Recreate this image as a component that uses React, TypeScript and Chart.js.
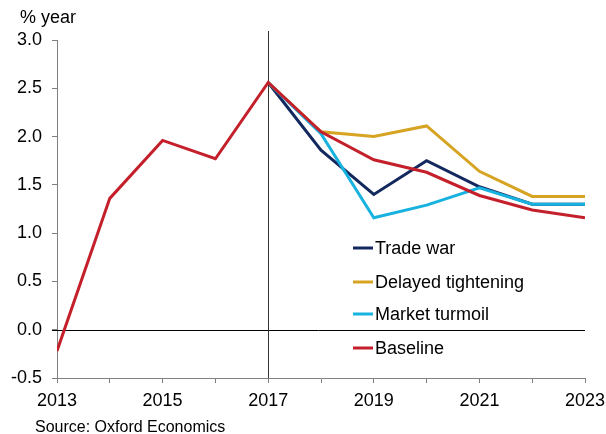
import React, { useEffect, useRef } from "react";
import { Chart, registerables } from "chart.js";

Chart.register(...registerables);

const years = [2013, 2014, 2015, 2016, 2017, 2018, 2019, 2020, 2021, 2022, 2023];
const baseline = [-0.22, 1.36, 1.96, 1.77, 2.56, 2.05, 1.76, 1.63, 1.39, 1.24, 1.16];
const tradeWar = [null, null, null, null, 2.56, 1.86, 1.40, 1.75, 1.48, 1.30, 1.30];
const delayedTightening = [null, null, null, null, 2.56, 2.05, 2.00, 2.11, 1.64, 1.38, 1.38];
const marketTurmoil = [null, null, null, null, 2.56, 2.03, 1.16, 1.29, 1.47, 1.30, 1.30];
const seriesNames = ["Trade war", "Delayed tightening", "Market turmoil", "Baseline"];
const seriesColors = ["#13285e", "#d6a422", "#17b2df", "#c4202b"];
const yTicks = [-0.5, 0.0, 0.5, 1.0, 1.5, 2.0, 2.5, 3.0];
const markerYear = 2017;
const unitLabel = "% year";
const sourceLabel = "Source: Oxford Economics";

const FONT = "'Liberation Sans', Arial, sans-serif";

function toPoints(vals: (number | null)[]) {
  return years.map((x, i) => ({ x, y: vals[i] }));
}

export default function App() {
  const ref = useRef<HTMLCanvasElement | null>(null);
  useEffect(() => {
    const canvas = ref.current;
    if (!canvas) return;
    const allSeries = [tradeWar, delayedTightening, marketTurmoil, baseline];
    const orders = [3, 2, 1, 0];
    const decor = {
      id: "decor",
      beforeDatasetsDraw(chart: any) {
        const ctx = chart.ctx;
        const xs = chart.scales.x;
        const ys = chart.scales.y;
        const area = chart.chartArea;
        ctx.save();
        ctx.strokeStyle = "#000";
        ctx.lineWidth = 1;
        const y0 = Math.round(ys.getPixelForValue(0)) + 0.5;
        ctx.beginPath();
        ctx.moveTo(area.left - 5, y0);
        ctx.lineTo(area.right, y0);
        ctx.stroke();
        const xv = Math.round(xs.getPixelForValue(markerYear)) + 0.5;
        ctx.strokeStyle = "#333";
        ctx.beginPath();
        ctx.moveTo(xv, area.top - 9);
        ctx.lineTo(xv, area.bottom);
        ctx.stroke();
        ctx.restore();
      },
      afterDraw(chart: any) {
        const ctx = chart.ctx;
        ctx.save();
        ctx.fillStyle = "#000";
        ctx.textBaseline = "middle";
        ctx.textAlign = "left";
        ctx.font = `18px ${FONT}`;
        ctx.fillText(unitLabel, 20, 18);
        ctx.font = `16px ${FONT}`;
        ctx.fillText(sourceLabel, 35, 428);
        // legend
        const lx = 353;
        const rows = [248, 282, 314, 348];
        ctx.font = `18px ${FONT}`;
        seriesNames.forEach((name, i) => {
          ctx.strokeStyle = seriesColors[i];
          ctx.lineWidth = 3;
          ctx.beginPath();
          ctx.moveTo(lx, rows[i]);
          ctx.lineTo(lx + 20, rows[i]);
          ctx.stroke();
          ctx.fillStyle = "#000";
          ctx.fillText(name, lx + 22, rows[i] + 1);
        });
        ctx.restore();
      },
    };
    const chart = new Chart(canvas, {
      type: "line",
      data: {
        datasets: allSeries.map((vals, i) => ({
          label: seriesNames[i],
          data: toPoints(vals),
          borderColor: seriesColors[i],
          backgroundColor: seriesColors[i],
          borderWidth: 3,
          pointRadius: 0,
          tension: 0,
          spanGaps: false,
          order: orders[i],
        })),
      },
      options: {
        animation: false,
        responsive: false,
        maintainAspectRatio: false,
        layout: { padding: { top: 40, right: 21, bottom: 0, left: 0 } },
        plugins: { legend: { display: false }, tooltip: { enabled: false } },
        scales: {
          x: {
            type: "linear",
            min: 2013,
            max: 2023,
            afterFit(scale: any) {
              scale.height = 56;
              scale.paddingLeft = 0;
              scale.paddingRight = 0;
            },
            ticks: {
              stepSize: 1,
              autoSkip: false,
              maxRotation: 0,
              color: "#000",
              padding: 7,
              font: { family: FONT, size: 18 },
              callback: (v: any) => (Number(v) % 2 === 1 ? String(v) : ""),
            },
            grid: {
              drawOnChartArea: false,
              drawTicks: true,
              tickLength: 5,
              color: "#808080",
            },
            border: { display: true, color: "#808080", width: 1 },
          },
          y: {
            min: -0.5,
            max: 3.0,
            afterFit(scale: any) {
              scale.width = 57;
              scale.paddingTop = 0;
              scale.paddingBottom = 0;
            },
            afterBuildTicks(scale: any) {
              scale.ticks = yTicks.map((v) => ({ value: v }));
            },
            ticks: {
              color: "#000",
              padding: 10,
              font: { family: FONT, size: 18 },
              callback: (v: any) => Number(v).toFixed(1),
            },
            grid: {
              drawOnChartArea: false,
              drawTicks: true,
              tickLength: 5,
              color: "#808080",
            },
            border: { display: true, color: "#808080", width: 1 },
          },
        },
      },
      plugins: [decor],
    } as any);
    return () => chart.destroy();
  }, []);
  return (
    <div style={{ position: "fixed", left: 0, top: 0, width: 606, height: 434, background: "#fff" }}>
      <canvas ref={ref} width={606} height={434} style={{ width: 606, height: 434, display: "block" }} />
    </div>
  );
}
